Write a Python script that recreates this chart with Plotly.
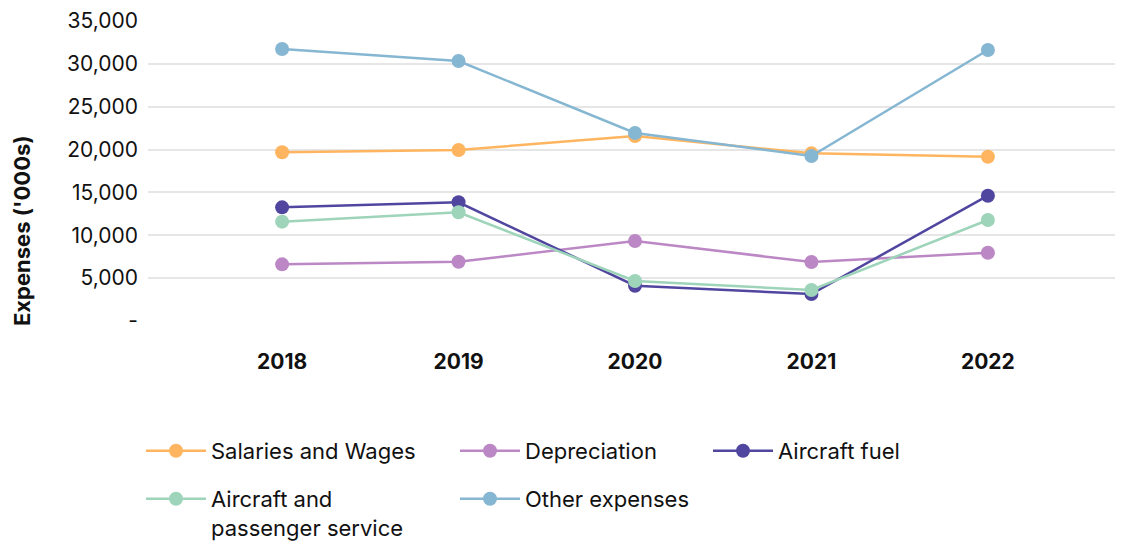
import plotly.graph_objects as go

years = ["2018", "2019", "2020", "2021", "2022"]
salaries = [19680, 19950, 21580, 19560, 19170]
depreciation = [6610, 6920, 9330, 6880, 7970]
aircraft_fuel = [13260, 13850, 4120, 3150, 14620]
aircraft_passenger = [11590, 12680, 4670, 3620, 11780]
other_expenses = [31730, 30330, 21930, 19250, 31615]

y_tickvals = [0, 5000, 10000, 15000, 20000, 25000, 30000, 35000]
y_ticktext = ["-", "5,000", "10,000", "15,000", "20,000", "25,000", "30,000", "35,000"]

FONT = "Inter"

# legend placement (container pixels), one legend per entry
series = [
    ("Salaries and Wages", salaries, "#FFB55F", "legend", 133, 422),
    ("Depreciation", depreciation, "#BB87C4", "legend2", 447, 422),
    ("Aircraft fuel", aircraft_fuel, "#5046A0", "legend3", 700, 422),
    ("Aircraft and<br>passenger service", aircraft_passenger, "#9ED4BA", "legend4", 133, 470),
    ("Other expenses", other_expenses, "#85B6D2", "legend5", 447, 470),
]

W, H = 1123, 541
# page body adds an 8px offset; compensate
L, R, T, B = 140, 9, 13, 228
fig = go.Figure()
legends = {}
for name, vals, color, leg, lx, ly in series:
    fig.add_trace(go.Scatter(
        x=years, y=vals, name=name, mode="lines+markers",
        line=dict(color=color, width=2.5),
        marker=dict(color=color, size=14),
        legend=leg,
    ))
    legends[leg] = dict(
        x=lx / W, y=1 - ly / H, xref="container", yref="container",
        xanchor="left", yanchor="top", orientation="v", valign="top",
        itemwidth=60,
        font=dict(family=FONT, size=22, color="#111111"),
        bgcolor="rgba(0,0,0,0)", borderwidth=0,
    )

plot_w = W - L - R
plot_h = H - T - B
fig.update_layout(
    width=W, height=H,
    margin=dict(l=L, r=R, t=T, b=B, autoexpand=False),
    plot_bgcolor="white", paper_bgcolor="white",
    showlegend=True,
    **legends,
    xaxis=dict(
        type="category", range=[-0.76, 4.76], showgrid=False, zeroline=False,
        showline=False, ticks="", tickangle=0,
        tickfont=dict(family=FONT, size=21, color="#111111", weight="bold"),
        ticklabelstandoff=26,
    ),
    yaxis=dict(
        range=[0, 35000], tickvals=y_tickvals, ticktext=y_ticktext,
        showgrid=True, gridcolor="#E6E6E6", gridwidth=1.5, zeroline=False,
        showline=False, ticks="",
        tickfont=dict(family=FONT, size=21, color="#111111"),
        ticklabelstandoff=9,
    ),
    annotations=[dict(
        text="<b>Expenses ('000s)</b>", textangle=-90,
        x=(14 - L) / plot_w, y=(H - 223 - B) / plot_h,
        xref="paper", yref="paper", xanchor="center", yanchor="middle",
        showarrow=False, font=dict(family=FONT, size=22, color="#111111"),
    )],
)

fig.write_html("out.html")
